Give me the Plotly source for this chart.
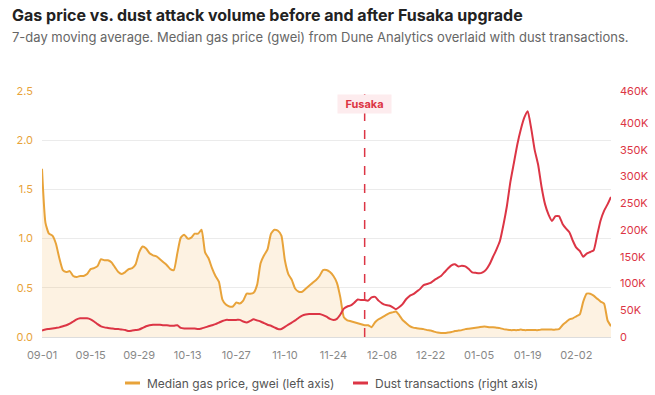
import pandas as pd
import plotly.graph_objects as go

start_date = "2025-09-01"
fusaka_date = "2025-12-03"

gas_price = [
    1.71, 1.16, 1.05, 1.03, 0.95, 0.80, 0.68, 0.66, 0.67, 0.62,
    0.61, 0.62, 0.62, 0.64, 0.69, 0.70, 0.72, 0.79, 0.78, 0.78,
    0.76, 0.71, 0.66, 0.64, 0.66, 0.69, 0.70, 0.74, 0.86, 0.92,
    0.90, 0.85, 0.83, 0.82, 0.79, 0.76, 0.73, 0.69, 0.68, 0.85,
    1.01, 1.04, 1.00, 1.01, 1.05, 1.05, 1.09, 0.86, 0.80, 0.70,
    0.62, 0.56, 0.38, 0.33, 0.31, 0.31, 0.35, 0.34, 0.37, 0.44,
    0.44, 0.45, 0.53, 0.75, 0.83, 0.89, 1.05, 1.09, 1.08, 1.03,
    0.78, 0.64, 0.58, 0.49, 0.46, 0.46, 0.49, 0.52, 0.55, 0.58,
    0.62, 0.68, 0.68, 0.66, 0.62, 0.55, 0.40, 0.20, 0.17, 0.16,
    0.15, 0.14, 0.13, 0.12, 0.12, 0.10, 0.15, 0.18, 0.20, 0.22,
    0.24, 0.25, 0.26, 0.22, 0.17, 0.14, 0.11, 0.095, 0.09, 0.085,
    0.08, 0.07, 0.065, 0.055, 0.045, 0.04, 0.04, 0.045, 0.05, 0.06,
    0.065, 0.07, 0.08, 0.085, 0.09, 0.095, 0.10, 0.105, 0.105, 0.10,
    0.10, 0.095, 0.09, 0.08, 0.075, 0.07, 0.07, 0.07, 0.075, 0.07,
    0.07, 0.07, 0.07, 0.07, 0.075, 0.075, 0.075, 0.075, 0.075, 0.08,
    0.12, 0.15, 0.18, 0.19, 0.21, 0.23, 0.36, 0.44, 0.44, 0.42,
    0.39, 0.36, 0.34, 0.17, 0.11,
]

dust_thousands = [
    12, 14, 15, 16, 17, 18, 20, 22, 25, 29,
    33, 35, 35, 35, 33, 29, 24, 20, 18, 17,
    16, 15, 15, 14, 13, 11, 12, 13, 14, 17,
    20, 22, 23, 23, 23, 22, 22, 21, 21, 22,
    17, 16, 16, 16, 16, 15, 16, 18, 20, 22,
    24, 27, 30, 32, 32, 32, 32, 32, 29, 27,
    30, 33, 31, 29, 26, 23, 21, 18, 15, 15,
    19, 23, 27, 31, 36, 40, 42, 43, 43, 43,
    43, 41, 38, 34, 32, 34, 42, 53, 57, 59,
    64, 70, 69, 69, 68, 74, 75, 68, 63, 60,
    59, 56, 52, 56, 62, 71, 77, 80, 85, 90,
    97, 99, 101, 106, 110, 114, 121, 128, 134, 136,
    132, 133, 132, 127, 121, 120, 119, 121, 126, 136,
    150, 164, 180, 210, 245, 290, 325, 360, 388, 410,
    422, 390, 350, 322, 280, 248, 229, 217, 226, 226,
    212, 203, 196, 180, 167, 161, 150, 156, 159, 162,
    190, 218, 236, 248, 262,
]

left_ticks = [0, 0.5, 1.0, 1.5, 2.0, 2.5]
right_tickvals = [0, 50000, 100000, 150000, 200000, 250000, 300000, 350000, 400000, 460000]
right_ticktext = ["0", "50K", "100K", "150K", "200K", "250K", "300K", "350K", "400K", "460K"]

title_text = "<b>Gas price vs. dust attack volume before and after Fusaka upgrade</b>"
subtitle_text = "7-day moving average. Median gas price (gwei) from Dune Analytics overlaid with dust transactions."
gas_label = "Median gas price, gwei (left axis)"
dust_label = "Dust transactions (right axis)"

dates = pd.date_range(start_date, periods=len(gas_price), freq="D")
dust = [v * 1000 for v in dust_thousands]

GOLD = "#E8A33A"
RED = "#DC3545"
FONT = "Inter, Roboto, sans-serif"

fig = go.Figure()
fig.add_trace(go.Scatter(
    x=dates, y=gas_price, name=gas_label, showlegend=False,
    mode="lines", line=dict(color=GOLD, width=2, shape="spline", smoothing=0.5),
    fill="tozeroy", fillcolor="rgba(240,170,60,0.15)", yaxis="y",
))
fig.add_trace(go.Scatter(
    x=dates, y=dust, name=dust_label, showlegend=False,
    mode="lines", line=dict(color=RED, width=2, shape="spline", smoothing=0.5),
    yaxis="y2",
))

# Fusaka marker
fig.add_shape(type="line", xref="x", yref="paper", x0=fusaka_date, x1=fusaka_date,
              y0=0, y1=1, line=dict(color=RED, width=1.5, dash="dash"))
fig.add_annotation(x=fusaka_date, xref="x", xanchor="center", y=0.947, yref="paper",
                   yanchor="middle", text="<b>Fusaka</b>",
                   showarrow=False, font=dict(family=FONT, size=11, color=RED),
                   bgcolor="#FDECEE", borderpad=0, width=53, height=18)

# Title / subtitle
fig.add_annotation(x=0, xref="paper", xanchor="left", y=1.309, yref="paper", yanchor="middle",
                   text=title_text, showarrow=False,
                   font=dict(family=FONT, size=16, color="#222222"), xshift=-32)
fig.add_annotation(x=0, xref="paper", xanchor="left", y=1.2195, yref="paper", yanchor="middle",
                   text=subtitle_text, showarrow=False,
                   font=dict(family=FONT, size=13, color="#666666"), xshift=-32)

# Custom legend (short line swatches)
leg_y = -0.187
for x0, x1, tx, color, label in [
    (0.1459, 0.1722, 0.181, GOLD, gas_label),
    (0.5466, 0.5729, 0.5817, RED, dust_label),
]:
    fig.add_shape(type="line", xref="paper", yref="paper", x0=x0, x1=x1, y0=leg_y, y1=leg_y,
                  line=dict(color=color, width=3))
    fig.add_annotation(x=tx, xref="paper", xanchor="left", y=leg_y, yref="paper", yanchor="middle",
                       text=label, showarrow=False,
                       font=dict(family=FONT, size=12, color="#555555"))

fig.update_layout(
    width=655, height=395,
    margin=dict(l=42, r=44, t=91, b=58, autoexpand=False),
    paper_bgcolor="white", plot_bgcolor="white",
    font=dict(family=FONT, size=11, color="#888888"),
    showlegend=False,
    xaxis=dict(
        type="date", range=[dates[0], dates[-1]], tick0=start_date, dtick=14 * 86400000,
        tickformat="%m-%d", showgrid=False, showline=True, linecolor="#DDDDDD",
        ticks="", tickfont=dict(size=11, color="#888888"), zeroline=False,
        ticklabelstandoff=8,
    ),
    yaxis=dict(
        range=[0, 2.5], tickvals=left_ticks, tickformat=".1f",
        showgrid=True, gridcolor="#EBEBEB", zeroline=False, showline=False,
        tickfont=dict(size=11, color=GOLD), ticks="", ticklabelstandoff=8,
    ),
    yaxis2=dict(
        range=[0, 460000], tickvals=right_tickvals, ticktext=right_ticktext,
        overlaying="y", side="right", showgrid=False, zeroline=False, showline=False,
        tickfont=dict(size=11, color=RED), ticks="", ticklabelstandoff=8,
    ),
)

fig.write_html("out.html", config={"displayModeBar": False},
               post_script="document.body.style.margin='0px';")
